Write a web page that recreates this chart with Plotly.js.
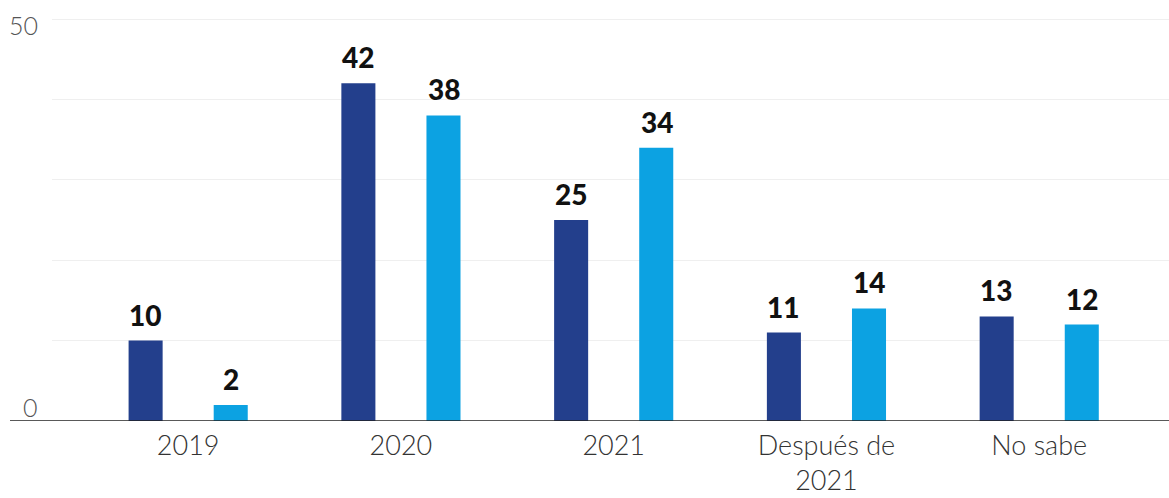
<!DOCTYPE html>
<html>
<head>
<meta charset="utf-8">
<script src="https://cdn.plot.ly/plotly-3.0.1.min.js"></script>
<style>html,body{margin:0;padding:0;background:#fff;}#chart{width:1169px;height:498px;}</style>
</head>
<body>
<div id="chart"></div>
<script>
const categories = ["2019", "2020", "2021", "Después de<br>2021", "No sabe"];
const seriesA = [10, 42, 25, 11, 13];
const seriesB = [2, 38, 34, 14, 12];
const yTickVals = [0, 50];
const yTickText = ["0", "50"];

const darkBlue = "#233f8c";
const lightBlue = "#0ca2e2";

const traces = [
  {type: "bar", x: categories, y: seriesA, marker: {color: darkBlue}, hoverinfo: "none"},
  {type: "bar", x: categories, y: seriesB, marker: {color: lightBlue}, hoverinfo: "none"}
];

const annotations = [];
[seriesA, seriesB].forEach((s, k) => {
  s.forEach((v, i) => {
    annotations.push({
      x: i, y: v, xref: "x", yref: "y",
      text: String(v), showarrow: false, yanchor: "bottom",
      xshift: k === 0 ? -43 : 43, yshift: 7,
      font: {family: "Lato, sans-serif", size: 28, color: "#111", weight: 900}
    });
  });
});
yTickVals.forEach((v, i) => {
  annotations.push({
    x: -0.0107, xref: "paper", y: v, yref: "y", xanchor: "right", yanchor: "middle",
    text: yTickText[i], showarrow: false, yshift: v === 0 ? 14 : -6,
    font: {family: "Lato, sans-serif", size: 25, color: "#555", weight: 300}
  });
});

const layout = {
  width: 1169, height: 498,
  margin: {l: 52, r: 0, t: 17, b: 77},
  paper_bgcolor: "#fff", plot_bgcolor: "#fff",
  barmode: "group", bargap: 0.2, bargroupgap: 0.6,
  showlegend: false,
  xaxis: {
    type: "category",
    range: [-0.64, 4.61], showgrid: false, zeroline: false, showline: false,
    ticks: "", ticklabelstandoff: 6,
    tickfont: {family: "Lato, sans-serif", size: 27, color: "#333", weight: 300},
    fixedrange: true
  },
  yaxis: {
    range: [0, 50.25], tickvals: [10, 20, 30, 40, 50], showgrid: true, gridcolor: "#efefef", gridwidth: 1,
    zeroline: false, showticklabels: false, ticks: "", fixedrange: true
  },
  shapes: [{
    type: "line", xref: "paper", yref: "y", x0: -0.0376, x1: 1, y0: 0, y1: 0,
    line: {color: "#222", width: 1.5}
  }],
  annotations: annotations
};

Plotly.newPlot("chart", traces, layout, {displayModeBar: false, staticPlot: true});
</script>
</body>
</html>
